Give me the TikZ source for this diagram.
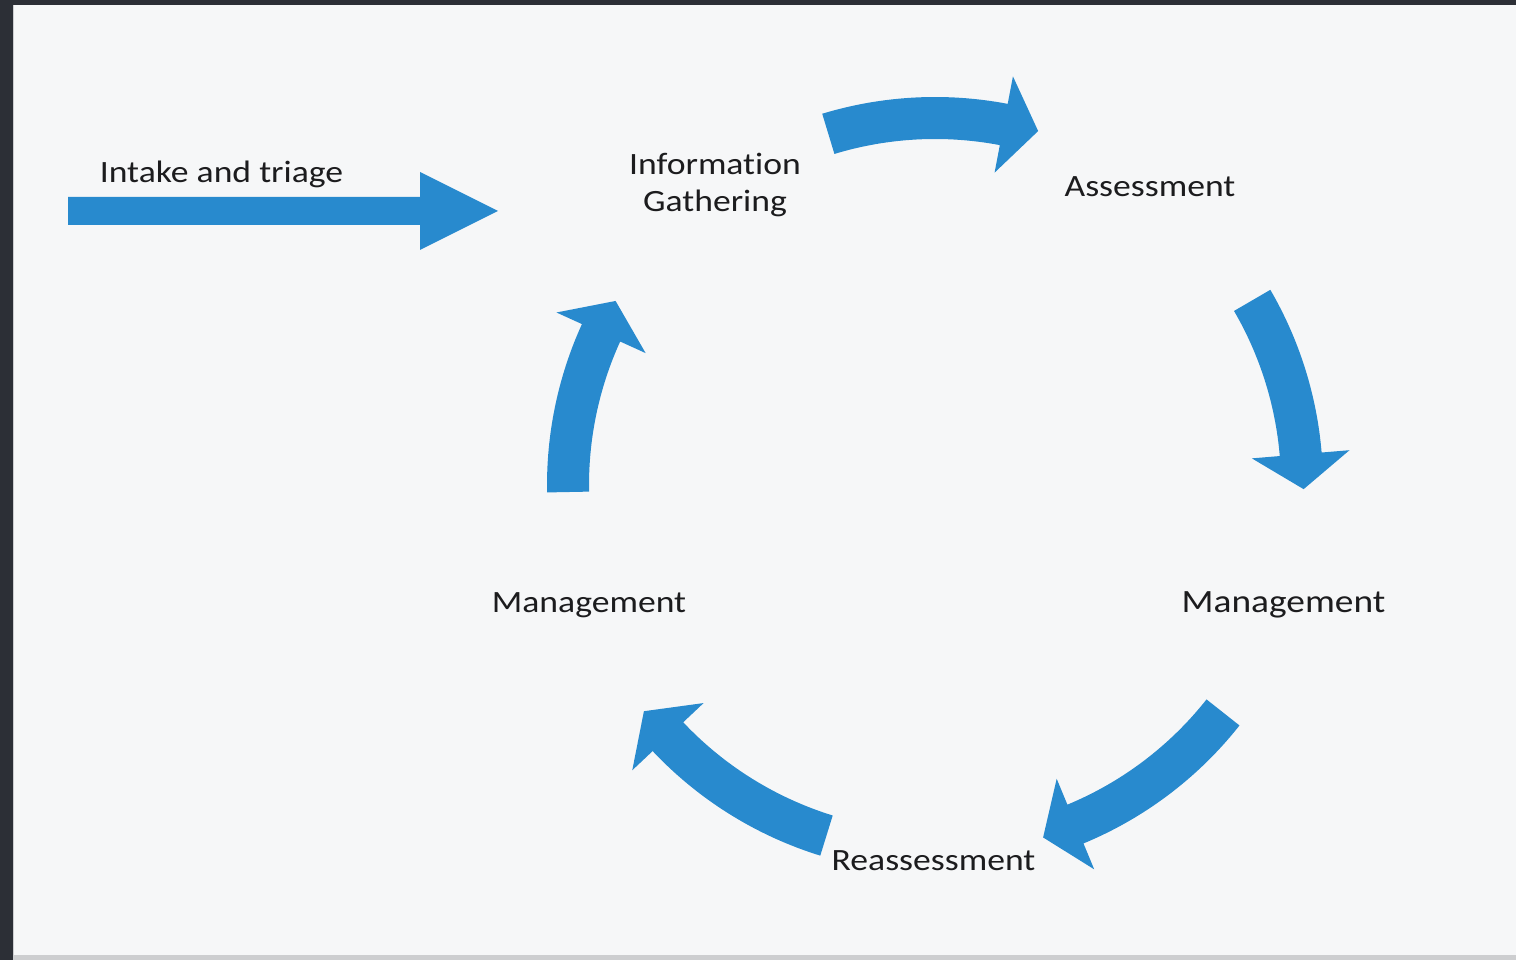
\documentclass[tikz,border=0pt]{standalone}
\usepackage{fontspec}
\setmainfont{Carlito}[FakeStretch=1.15, Ligatures={NoCommon,NoRare}]
\usetikzlibrary{calc}
\definecolor{arrowblue}{RGB}{40,138,206}
\definecolor{bgpaper}{RGB}{246,247,248}
\definecolor{framedark}{RGB}{44,47,54}
\definecolor{edgegray}{RGB}{205,206,208}
\definecolor{txt}{RGB}{28,28,30}
\tikzset{
  blockarrow/.style={fill=arrowblue, draw=none},
  lbl/.style={text=txt, font=\fontsize{31}{37}\selectfont, inner sep=0pt, anchor=base},
}
\newcommand{\cyclearrow}[2]{%
  \path[blockarrow] ($(C)+(#1:388)$) arc[start angle=#1, end angle=#2, radius=388]
    -- ($(C)+(#2:416)$) -- ($(C)+(#2:367)+({#2-90}:35)$) -- ($(C)+(#2:318)$)
    -- ($(C)+(#2:346)$) arc[start angle=#2, end angle=#1, radius=346] -- cycle;}
\begin{document}
\begin{tikzpicture}[x=1pt,y=1pt]
  \useasboundingbox (0,0) rectangle (1516,960);
  % frame and paper
  \fill[framedark] (0,0) rectangle (1516,960);
  \fill[edgegray] (13,0) rectangle (1516,955);
  \fill[bgpaper] (14,5) rectangle (1516,955);
  % centre of the cycle
  \coordinate (C) at (935,475);
  % labels
  \node[lbl] (intake) at (221.5,777) {Intake and triage};
  \node[lbl, align=center] (info) at (715,748) {Information\\Gathering};
  \node[lbl] (assess) at (1150,763) {Assessment};
  \node[lbl, font=\fontsize{32.5}{37}\selectfont] (mgmtR) at (1283.5,347) {Management};
  \node[lbl] (reass) at (933.5,89) {Reassessment};
  \node[lbl] (mgmtL) at (589,347) {Management};
  % straight intake arrow
  \path[blockarrow] (68,763) -- (420,763) -- (420,788) -- (498,749) -- (420,710)
    -- (420,735) -- (68,735) -- cycle;
  % cycle arrows
  \cyclearrow{106.9}{79.2}
  \cyclearrow{30.2}{4.8}
  \cyclearrow{-38.3}{-67.5}
  \cyclearrow{-107.2}{-136.7}
  \cyclearrow{181.1}{155.5}
\end{tikzpicture}
\end{document}
